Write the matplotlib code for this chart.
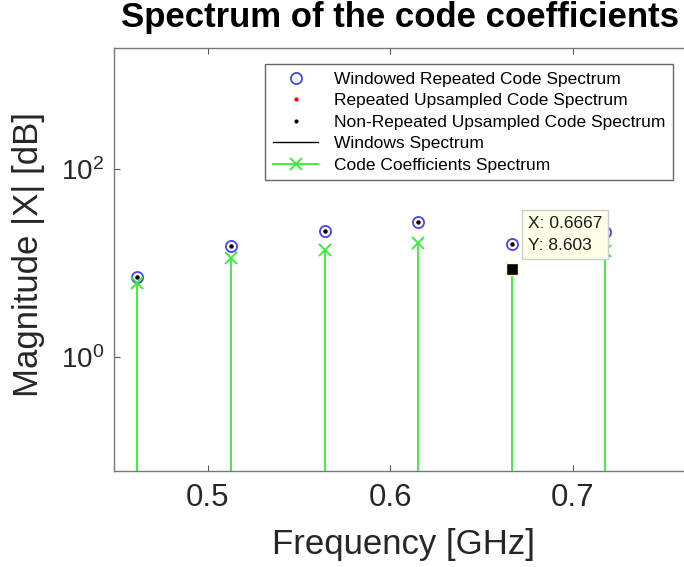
import matplotlib
matplotlib.use("Agg")
import matplotlib.pyplot as plt
from matplotlib.ticker import FixedLocator, NullLocator

plt.rcParams['font.family'] = ['Liberation Sans', 'DejaVu Sans']

# ========== Data ==========
freq = [0.4615, 0.5128, 0.5641, 0.6154, 0.6667, 0.7179]           # GHz
windowed_rep = [7.12, 15.4, 22.1, 27.6, 15.8, 21.3]               # blue circles
rep_upsampled = [7.12, 15.4, 22.1, 27.6, 15.8, 21.3]              # red dots
nonrep_upsampled = [7.12, 15.4, 22.1, 27.6, 15.8, 21.3]           # black dots
code_coeffs = [6.14, 11.4, 13.9, 16.5, 8.603, 13.4]               # green stems
tip_x, tip_y = 0.6667, 8.603
y_ticks = [1, 100]
x_ticks = [0.5, 0.6, 0.7]

# ========== Figure ==========
fig = plt.figure(figsize=(6.84, 5.67), dpi=100)
ax = fig.add_axes([114 / 684, 96.3 / 567, 576 / 684, 422.4 / 567])

green = '#33ee33'
ax.plot(freq, windowed_rep, 'o', color='#4444ff', mfc='none', ms=8, mew=1.3,
        label='Windowed Repeated Code Spectrum')
ax.plot(freq, rep_upsampled, '.', color='red', ms=4,
        label='Repeated Upsampled Code Spectrum')
ax.plot(freq, nonrep_upsampled, '.', color='black', ms=4,
        label='Non-Repeated Upsampled Code Spectrum')
ax.plot([], [], '-', color='black', lw=1, label='Windows Spectrum')

ax.vlines(freq, 1e-3, code_coeffs, color=green, lw=1.3)
ax.plot(freq, code_coeffs, 'x', color=green, ms=8, mew=1.3, ls='none')
ax.plot([], [], '-x', color=green, lw=1.3, ms=8, mew=1.3,
        label='Code Coefficients Spectrum')

# data tip
ax.plot([tip_x], [tip_y], 's', color='black', mec='#ffffcc', ms=9, mew=1)
ax.annotate('X: 0.6667\nY: 8.603', xy=(tip_x, tip_y), xytext=(16, 16),
            textcoords='offset pixels', ha='left', va='bottom', fontsize=12.5,
            linespacing=1.6, color='#1a1a1a',
            bbox=dict(boxstyle='square,pad=0.35', fc='#ffffe8', ec='#cccccc', lw=1))

ax.set_yscale('log')
ax.set_xlim(0.4487, 0.4487 + 576 / 1825)
ax.set_ylim(0.0605, 1972)
ax.yaxis.set_major_locator(FixedLocator(y_ticks))
ax.yaxis.set_minor_locator(NullLocator())
ax.set_xticks(x_ticks)
ax.set_xticklabels(['0.5', '0.6', '0.7'])

ax.tick_params(direction='in', length=4, width=0.8, colors='#555555',
               labelcolor='#262626', top=True, right=True)
ax.tick_params(axis='x', pad=9, labelsize=22.5)
ax.tick_params(axis='y', pad=7, labelsize=20)
for s in ax.spines.values():
    s.set_color('#777777')
    s.set_linewidth(1.0)

ax.set_xlabel('Frequency [GHz]', fontsize=25, color='#262626')
ax.set_ylabel('Magnitude |X| [dB]', fontsize=25, color='#262626')
ax.xaxis.set_label_coords((403 - 114) / 576, -(528 - 470.7) / 422.4)
ax.yaxis.set_label_coords((45 - 114) / 576, 0.512)

fig.text(400 / 684, 1 - 27 / 567, 'Spectrum of the code coefficients',
         fontsize=25, fontweight='bold', ha='center', va='baseline')

leg = ax.legend(loc='upper right', bbox_to_anchor=((673 - 114) / 576, 0.9628),
                borderaxespad=0, fontsize=12.5, frameon=True, fancybox=False,
                framealpha=1, edgecolor='#666666', handlelength=2.6,
                handletextpad=0.9, labelspacing=0.36, borderpad=0.45)
leg.get_frame().set_linewidth(1.0)

fig.savefig('out.png', dpi=100)
